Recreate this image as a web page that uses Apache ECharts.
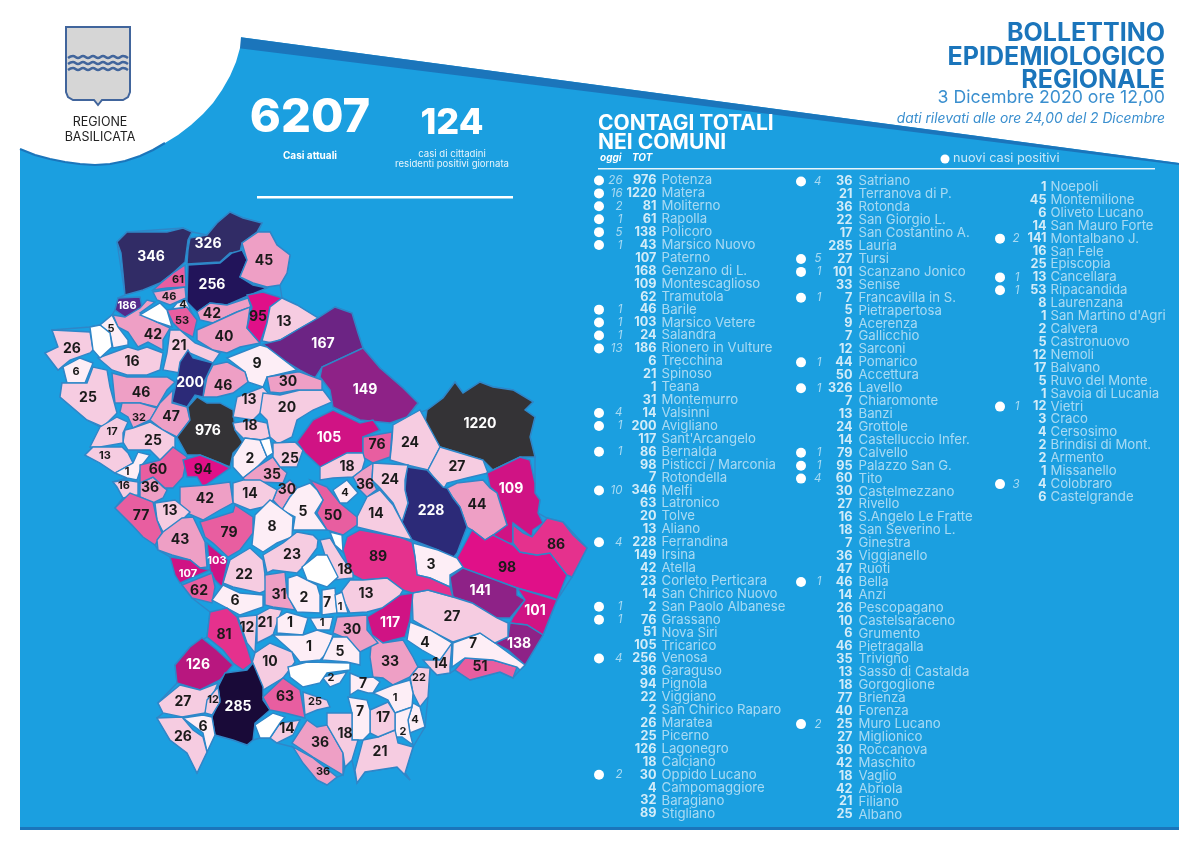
<!DOCTYPE html>
<html>
<head>
<meta charset="utf-8">
<title>Bollettino epidemiologico regionale</title>
<script src="https://cdn.jsdelivr.net/npm/echarts@6/dist/echarts.min.js"></script>
<style>html,body{margin:0;padding:0;background:#fff}</style>
</head>
<body>
<div id="main" style="width:1193px;height:841px"></div>
<script>
// --- list on the right: one set of arrays per column
var col1Names = ['Potenza','Matera','Moliterno','Rapolla','Policoro','Marsico Nuovo','Paterno','Genzano di L.','Montescaglioso','Tramutola','Barile','Marsico Vetere','Salandra','Rionero in Vulture','Trecchina','Spinoso','Teana','Montemurro','Valsinni','Avigliano',"Sant'Arcangelo",'Bernalda','Pisticci / Marconia','Rotondella','Melfi','Latronico','Tolve','Aliano','Ferrandina','Irsina','Atella','Corleto Perticara','San Chirico Nuovo','San Paolo Albanese','Grassano','Nova Siri','Tricarico','Venosa','Garaguso','Pignola','Viggiano','San Chirico Raparo','Maratea','Picerno','Lagonegro','Calciano','Oppido Lucano','Campomaggiore','Baragiano','Stigliano'];
var col1Tot = [976,1220,81,61,138,43,107,168,109,62,46,103,24,186,6,21,1,31,14,200,117,86,98,7,346,63,20,13,228,149,42,23,14,2,76,51,105,256,36,94,22,2,26,25,126,18,30,4,32,89];
var col1Oggi = [26,16,2,1,5,1,0,0,0,0,1,1,1,13,0,0,0,0,4,1,0,1,0,0,10,0,0,0,4,0,0,0,0,1,1,0,0,4,0,0,0,0,0,0,0,0,2,0,0,0];

var col2Names = ['Satriano','Terranova di P.','Rotonda','San Giorgio L.','San Costantino A.','Lauria','Tursi','Scanzano Jonico','Senise','Francavilla in S.','Pietrapertosa','Acerenza','Gallicchio','Sarconi','Pomarico','Accettura','Lavello','Chiaromonte','Banzi','Grottole','Castelluccio Infer.','Calvello','Palazzo San G.','Tito','Castelmezzano','Rivello','S.Angelo Le Fratte','San Severino L.','Ginestra','Viggianello','Ruoti','Bella','Anzi','Pescopagano','Castelsaraceno','Grumento','Pietragalla','Trivigno','Sasso di Castalda','Gorgoglione','Brienza','Forenza','Muro Lucano','Miglionico','Roccanova','Maschito','Vaglio','Abriola','Filiano','Albano'];
var col2Tot = [36,21,36,22,17,285,27,101,33,7,5,9,7,12,44,50,326,7,13,24,14,79,95,60,30,27,16,18,7,36,47,46,14,26,10,6,46,35,13,18,77,40,25,27,30,42,18,42,21,25];
var col2Oggi = [4,0,0,0,0,0,5,1,0,1,0,0,0,0,1,0,1,0,0,0,0,1,1,4,0,0,0,0,0,0,0,1,0,0,0,0,0,0,0,0,0,0,2,0,0,0,0,0,0,0];

var col3Names = ['Noepoli','Montemilione','Oliveto Lucano','San Mauro Forte','Montalbano J.','San Fele','Episcopia','Cancellara','Ripacandida','Laurenzana',"San Martino d'Agri",'Calvera','Castronuovo','Nemoli','Balvano','Ruvo del Monte','Savoia di Lucania','Vietri','Craco','Cersosimo','Brindisi di Mont.','Armento','Missanello','Colobraro','Castelgrande'];
var col3Tot = [1,45,6,14,141,16,25,13,53,8,1,2,5,12,17,5,1,12,3,4,2,2,1,4,6];
var col3Oggi = [0,0,0,0,2,0,0,1,1,0,0,0,0,0,0,0,0,1,0,0,0,0,0,3,0];

// --- numbers printed on the map, region by region (0 = region left white)
var mapNames = ['Melfi','Lavello','Venosa','Montemilone','Rapolla','Barile','Rionero','Atella','Ripacandida','Ginestra','Maschito','Forenza','Palazzo','Banzi','Genzano','Irsina','Matera','Grottole','Miglionico','Montescaglioso','Pomarico','Ferrandina','Pisticci','Bernalda','Montalbano','Scanzano','Policoro','Nova Siri','Rotondella','Tursi','Craco','Stigliano','Sant Arcangelo','Aliano','Colobraro','Valsinni','Senise','San Giorgio','Noepoli','Cersosimo','San Paolo','Terranova','San Costantino','Francavilla','Chiaromonte','Filiano','Acerenza','Pietragalla','Avigliano','Ruvo','Pescopagano','Castelgrande','Muro','San Fele','Bella','Baragiano','Ruoti','Picerno','Balvano','Vietri','Savoia','Satriano','S.Angelo','Tito','Potenza','Pignola','Vaglio','Cancellara','Tolve','Oppido','Brindisi','Trivigno','Albano','Tricarico','Grassano','Calciano','Garaguso','Salandra','San Mauro','Accettura','Oliveto','Castelmezzano','Pietrapertosa','Anzi','Abriola','Sasso','Brienza','Marsico Nuovo','Calvello','Laurenzana','Corleto','Viggiano','Paterno','Marsico Vetere','Tramutola','Grumento','Moliterno','Sarconi','Spinoso','San Martino','Montemurro','Armento','Gallicchio','Missanello','Teana','Roccanova','San Chirico','Castronuovo','Castelsaraceno','Lagonegro','Lauria','Rivello','Nemoli','Trecchina','Maratea','Latronico','Episcopia','Castelluccio','Viggianello','Rotonda','San Severino','Calvera','Gorgoglione','Bianco1','Bianco2','Bianco3','Bianco4','Bianco5','Bianco6','Bianco7'];
var mapTotals = [346,326,256,45,61,46,186,42,53,4,42,40,95,13,167,149,1220,24,27,109,44,228,98,86,141,101,138,51,7,27,3,89,117,13,4,14,33,22,1,4,2,21,17,7,7,21,9,46,200,5,26,6,25,16,46,32,47,25,17,13,1,36,16,60,976,94,18,13,20,30,2,35,25,105,76,18,36,24,14,50,4,30,5,14,42,13,77,43,79,8,23,22,107,103,62,6,81,12,21,1,31,2,7,1,1,30,1,5,10,126,285,27,12,6,26,63,25,14,36,36,18,2,18,0,0,0,0,0,0,0];
var mapSmallLabels = ['Rapolla','Barile','Rionero','Ripacandida','Ginestra','Ruvo','Castelgrande','Baragiano','Balvano','Vietri','Savoia','S.Angelo','Paterno','Marsico Vetere','Nemoli','Rotonda','San Giorgio','Calvera','Oliveto','Missanello','Cersosimo','San Paolo','Episcopia','Teana','Noepoli'];

// --- region outlines and where each number sits on the map (page pixels)
var regionShapes = {
  'Melfi': [[151,257],[117,242,127,232,147,232,167,232,183,228,192,232,188,240,185,262,173,273,160,283,143,290,125,295,123,273,121,253]],
  'Lavello': [[208,244],[190,238,207,235,217,223,230,212,243,218,262,223,257,232,242,243,240,252,230,253,220,262,187,264,188,250]],
  'Venosa': [[212,285],[188,265,220,263,232,253,242,250,247,260,240,277,253,285,267,288,243,298,227,305,210,303,197,312,187,302]],
  'Montemilone': [[264,261],[242,243,258,232,270,232,277,245,290,255,287,273,280,285,267,287,253,283,240,277,247,260]],
  'Rapolla': [[178,280],[185,265,186,287,167,288,153,290,162,282,173,273]],
  'Barile': [[169,297],[153,292,185,287,186,298,170,305,157,300]],
  'Rionero': [[127,306],[115,310,118,298,140,297,142,307,133,315,125,317]],
  'Atella': [[153,335],[113,315,125,317,140,308,147,300,155,302,140,313,157,322,170,328,163,340,163,350,148,342,138,347,128,332,118,327]],
  'Ripacandida': [[182,321],[167,310,187,307,197,320,193,337,180,330,173,323]],
  'Ginestra': [[183,305],[172,309,177,303,186,300,192,313,187,307]],
  'Maschito': [[212,314],[197,312,210,303,227,305,248,298,251,307,237,312,213,323,200,320]],
  'Forenza': [[224,337],[197,330,213,323,237,312,250,307,247,328,260,343,240,347,227,353,213,350,197,340]],
  'Palazzo': [[258,317],[247,295,263,292,282,298,270,307,267,323,260,343,247,328,252,307]],
  'Banzi': [[284,322],[282,298,297,305,318,318,297,330,280,340,272,343,262,341,267,323,270,307]],
  'Genzano': [[323,344],[335,307,352,313,358,333,363,348,322,367,315,378,300,370,280,358,263,344,280,340,297,330,318,318]],
  'Irsina': [[365,390],[363,348,380,368,403,388,418,403,407,417,390,423,360,420,333,407,330,390,320,377,322,367]],
  'Matera': [[480,424],[427,410,443,398,455,382,463,393,480,382,493,387,513,390,533,402,525,410,535,417,530,437,535,457,520,457,493,470,483,460,460,453,440,447,425,423]],
  'Grottole': [[410,443],[393,425,420,410,427,423,440,447,428,470,407,465,390,460,392,440]],
  'Miglionico': [[457,467],[440,447,460,453,483,460,488,473,467,478,447,483,443,490,428,470]],
  'Montescaglioso': [[511,489],[487,473,520,457,530,460,535,483,535,493,540,500,538,513,543,523,533,530,532,537,513,523,513,543,503,545,493,535,507,525,497,493,490,487]],
  'Pomarico': [[477,505],[447,488,457,483,483,480,490,488,497,493,507,525,493,535,485,540,472,530,467,527,460,507,453,498]],
  'Ferrandina': [[431,511],[407,467,427,470,443,487,447,488,453,498,460,507,467,527,457,553,453,558,438,550,412,540,402,522,408,503,405,490]],
  'Pisticci': [[507,568],[472,530,485,540,493,535,513,545,520,552,537,555,550,553,567,575,557,600,550,597,517,588,490,578,463,568,457,558]],
  'Bernalda': [[556,545],[513,525,523,533,532,537,547,518,563,522,573,535,587,548,572,577,567,575,550,553,537,555,520,552,513,543]],
  'Montalbano': [[480,591],[450,577,463,568,490,578,517,588,517,595,525,600,510,618,497,618,472,603,453,597]],
  'Scanzano': [[535,611],[517,588,550,598,557,600,550,617,543,635,527,625,510,623,513,617,525,600]],
  'Policoro': [[519,644],[495,643,508,637,510,623,527,625,543,635,525,665,508,650]],
  'Nova Siri': [[480,667],[455,670,465,658,493,660,517,667,513,678,500,672,470,680]],
  'Rotondella': [[473,644],[452,667,453,643,480,633,495,643,525,665,520,670,517,667,493,660,465,658]],
  'Tursi': [[452,617],[412,593,428,590,453,597,472,603,497,618,508,623,508,637,495,643,480,633,453,642,430,630,413,620]],
  'Craco': [[431,565],[413,543,438,550,457,558,463,567,450,575,450,587,430,578,417,575,415,557]],
  'Stigliano': [[378,557],[360,530,400,537,412,542,415,557,417,575,430,578,450,587,453,597,428,590,412,593,403,590,387,578,363,580,350,573,343,550,347,537]],
  'Sant Arcangelo': [[390,623],[367,617,382,608,400,595,413,593,412,603,410,620,405,637,393,640,383,643,372,635]],
  'Aliano': [[366,594],[350,580,363,580,387,578,403,590,400,595,382,608,367,612,350,613,340,593]],
  'Colobraro': [[425,643],[410,622,430,630,452,643,450,652,440,660,422,650,407,640]],
  'Valsinni': [[440,664],[452,643,450,667,450,673,437,675,430,668,423,660,440,660]],
  'Senise': [[390,662],[372,635,383,643,403,640,413,657,418,667,410,677,393,685,383,678,373,677,370,657]],
  'San Giorgio': [[419,678],[418,667,430,668,428,697,420,707,413,693,410,677]],
  'Noepoli': [[395,698],[373,693,393,685,410,680,413,693,412,707,395,713,388,700]],
  'Cersosimo': [[415,720],[413,703,420,707,425,727,410,733,408,720]],
  'San Paolo': [[403,732],[395,713,412,707,408,720,410,733,413,745,402,737,395,737]],
  'Terranova': [[380,752],[363,740,378,737,395,730,398,743,413,747,405,773,410,780,397,767,365,772,357,783,355,770]],
  'San Costantino': [[383,718],[370,710,388,702,395,713,395,730,378,737,370,733]],
  'Francavilla': [[360,712],[348,697,367,700,370,710,370,733,363,740,352,740,352,713]],
  'Chiaromonte': [[363,684],[350,673,362,678,373,677,380,682,373,693,368,693,358,690,350,695]],
  'Filiano': [[179,346],[170,330,180,330,195,343,220,353,213,363,190,353,183,360,180,373,163,370,167,353]],
  'Acerenza': [[257,364],[227,358,260,345,267,347,297,370,267,377,263,387,248,382,245,372]],
  'Pietragalla': [[223,386],[213,365,227,362,245,372,248,382,233,393,217,397,203,397,207,377]],
  'Avigliano': [[190,383],[188,350,193,358,213,363,205,380,203,397,195,395,187,407,172,402,177,380,180,362]],
  'Ruvo': [[111,329],[100,325,112,315,118,327,128,340,128,345,113,348,110,333]],
  'Pescopagano': [[72,349],[52,330,90,332,93,350,90,353,70,360,58,370,45,353,58,347]],
  'Castelgrande': [[76,372],[63,367,80,358,93,363,85,383,67,383]],
  'Muro': [[88,398],[87,383,93,367,107,370,110,387,117,413,103,427,87,420,60,397,62,383]],
  'San Fele': [[132,362],[98,358,128,347,138,350,147,347,163,353,160,370,147,375,127,375,112,370]],
  'Bella': [[141,393],[112,373,127,377,147,377,167,377,175,382,167,390,157,407,140,403,123,403,115,403]],
  'Baragiano': [[139,418],[122,403,140,403,157,408,150,420,133,428,128,417,120,412]],
  'Ruoti': [[171,417],[173,390,172,403,187,407,190,420,177,437,163,430,150,420,160,403]],
  'Picerno': [[153,441],[125,430,133,428,150,422,163,430,175,437,175,450,160,460,150,450,128,450,123,442]],
  'Balvano': [[112,432],[100,427,117,417,128,422,123,433,123,443,100,447,90,447]],
  'Vietri': [[105,456],[85,455,93,447,122,447,128,453,133,463,115,473,100,463]],
  'Savoia': [[127,472],[115,473,133,463,138,452,150,455,142,465,137,480,127,478]],
  'Satriano': [[150,488],[140,483,153,477,163,487,167,490,163,498,153,503,140,497]],
  'S.Angelo': [[124,486],[113,482,125,480,138,482,138,495,123,498,117,487]],
  'Tito': [[158,470],[140,465,160,460,173,447,187,457,183,477,173,488,165,488,153,477,140,483]],
  'Potenza': [[208,431],[197,397,207,403,220,403,233,410,235,430,243,443,233,453,230,467,220,463,200,455,187,455,177,437,190,420,188,407]],
  'Pignola': [[203,470],[183,460,200,455,220,463,230,468,213,480,203,487,197,477,187,477]],
  'Vaglio': [[250,426],[233,423,253,420,267,423,270,437,263,440,243,438,235,430]],
  'Cancellara': [[249,400],[237,397,263,387,268,393,260,413,253,420,233,417]],
  'Tolve': [[287,408],[263,393,280,395,300,390,323,390,332,402,313,410,297,420,292,437,280,443,277,443,270,437,267,420,260,413]],
  'Oppido': [[288,382],[267,377,297,372,300,372,322,380,322,390,297,390,280,393,270,392]],
  'Brindisi': [[250,459],[233,457,245,438,260,440,267,457,257,467,243,478,233,467]],
  'Trivigno': [[272,475],[257,467,273,457,280,467,287,473,283,483,260,482,247,483,243,478]],
  'Albano': [[290,459],[273,443,295,442,303,450,297,467,280,467,273,457]],
  'Tricarico': [[329,438],[297,442,313,420,333,410,360,423,373,420,380,430,363,437,363,453,347,453,320,467,305,453]],
  'Grassano': [[377,445],[363,437,392,432,390,457,373,463,363,457]],
  'Calciano': [[347,467],[320,467,347,453,363,453,365,460,362,470,353,477,333,478,320,480]],
  'Garaguso': [[365,485],[362,470,373,463,372,480,377,490,380,487,367,497,360,490,353,477]],
  'Salandra': [[390,480],[373,463,408,465,405,480,405,490,408,503,402,522,393,503,380,488,372,480]],
  'San Mauro': [[376,514],[357,517,367,497,380,490,393,505,402,522,412,540,390,535,357,527]],
  'Accettura': [[333,516],[310,480,327,487,340,503,357,517,357,525,343,535,327,530,317,513,323,500,317,490]],
  'Oliveto': [[345,493],[333,490,347,480,358,493,347,503,340,503]],
  'Castelmezzano': [[287,490],[277,490,290,480,297,487,290,497,282,510,273,500]],
  'Pietrapertosa': [[303,512],[297,488,310,483,317,490,323,500,315,513,327,530,313,530,293,530,295,517,282,510,290,497]],
  'Anzi': [[250,494],[233,483,243,480,260,480,277,490,273,500,263,507,250,510,233,503]],
  'Abriola': [[205,499],[180,487,207,485,230,482,233,503,220,510,203,520,180,510]],
  'Sasso': [[170,511],[155,503,175,500,190,512,180,522,163,532,157,520]],
  'Brienza': [[141,516],[115,508,130,493,153,502,157,520,162,533,155,545,143,537,132,525]],
  'Marsico Nuovo': [[180,540],[157,540,163,532,182,518,193,517,205,542,207,567,200,568,190,560,172,555,158,550]],
  'Calvello': [[229,533],[200,522,217,517,233,512,235,505,253,517,253,533,240,550,228,557,213,543,205,537]],
  'Laurenzana': [[272,527],[255,515,270,500,293,517,292,537,277,543,263,552,252,545,253,535]],
  'Corleto': [[292,555],[263,555,283,543,297,532,313,535,318,540,317,548,303,567,297,573,273,570,267,573]],
  'Viggiano': [[244,575],[223,583,230,560,250,548,263,560,267,590,260,593,233,587]],
  'Paterno': [[188,574],[170,557,190,560,200,568,210,570,180,583,175,575]],
  'Marsico Vetere': [[217,561],[207,543,228,560,222,587,215,580,210,570]],
  'Tramutola': [[199,591],[182,585,212,573,215,587,212,603,192,598]],
  'Grumento': [[235,601],[212,600,223,585,240,593,263,595,263,607,240,615,227,608]],
  'Moliterno': [[224,635],[210,612,227,608,237,617,247,647,252,663,243,670,233,663,223,650,207,637]],
  'Sarconi': [[247,628],[238,617,257,615,255,653,247,643]],
  'Spinoso': [[265,623],[257,615,270,608,282,610,277,623,273,635,257,643]],
  'San Martino': [[290,623],[277,618,287,612,308,618,303,635,277,633]],
  'Montemurro': [[279,595],[265,575,285,572,287,593,295,610,273,607,265,605]],
  'Armento': [[304,598],[288,578,297,575,317,585,320,595,320,613,297,612,288,597]],
  'Gallicchio': [[327,603],[322,590,335,588,337,613,322,615]],
  'Missanello': [[340,607],[335,595,342,592,348,613,337,613]],
  'Teana': [[322,623],[310,618,333,617,330,630,317,630]],
  'Roccanova': [[352,630],[337,617,367,615,367,630,378,643,360,652,343,637,333,633]],
  'San Chirico': [[309,647],[273,635,303,635,317,630,333,635,327,653,320,660,300,662,292,652]],
  'Castronuovo': [[340,652],[333,637,347,637,360,652,360,665,347,662,322,660]],
  'Castelsaraceno': [[270,662],[255,653,270,643,292,652,295,662,287,673,283,678,263,690,257,677,252,663]],
  'Lagonegro': [[198,665],[175,665,190,647,202,638,217,650,233,665,220,680,200,690,177,683]],
  'Lauria': [[238,707],[225,673,247,670,253,663,263,687,263,700,270,710,255,723,253,740,247,745,233,740,215,735,212,717,220,700,218,687]],
  'Rivello': [[183,702],[158,703,180,685,200,690,218,683,212,697,205,713,182,717,163,713]],
  'Nemoli': [[213,700],[207,700,218,687,220,702,212,715,205,713]],
  'Trecchina': [[203,727],[183,718,203,715,212,717,215,735,207,752,203,733]],
  'Maratea': [[183,737],[157,718,182,717,193,730,203,737,207,752,197,773,187,753,170,740]],
  'Latronico': [[285,697],[263,697,283,678,300,690,305,718,285,713,270,710]],
  'Episcopia': [[315,702],[303,692,327,700,330,707,317,710,305,715]],
  'Castelluccio': [[287,729],[270,738,280,723,300,720,293,735,277,743]],
  'Viggianello': [[320,743],[292,743,307,720,317,727,327,725,343,753,343,775,313,757]],
  'Rotonda': [[323,772],[293,747,313,758,337,777,327,785,317,780,303,763]],
  'San Severino': [[345,734],[327,713,352,713,352,740,358,740,352,760,345,767,343,753,327,725]],
  'Calvera': [[331,678],[322,677,347,672,340,683,330,687]],
  'Gorgoglione': [[345,570],[320,540,330,538,342,557,353,573,353,578,333,580]],
  'Bianco1': [[0,0],[140,315,160,303,167,310,172,327,157,322]],
  'Bianco2': [[0,0],[90,327,100,325,110,333,112,347,100,358,93,350]],
  'Bianco3': [[0,0],[260,440,270,438,273,453,267,457]],
  'Bianco4': [[0,0],[302,567,317,555,327,555,338,577,327,587,307,580]],
  'Bianco5': [[0,0],[288,667,307,662,350,663,350,670,327,673,320,683,303,687,290,677]],
  'Bianco6': [[0,0],[255,725,273,713,285,717,280,723,270,738,260,738]],
  'Bianco7': [[0,0],[330,532,342,535,343,552,335,545]]
};
var landOutline = [117,242,127,232,183,228,192,232,207,235,217,223,230,212,243,218,262,223,258,232,270,232,277,245,290,255,287,273,280,285,282,298,297,305,318,318,335,307,352,313,358,333,363,348,380,368,403,388,418,403,407,417,427,410,443,398,455,382,463,393,480,382,493,387,513,390,533,402,525,410,535,417,530,437,535,457,535,493,540,500,538,513,547,518,563,522,587,548,572,577,557,600,543,635,525,665,520,670,513,678,500,672,470,680,455,670,450,673,437,675,430,668,428,697,425,727,413,747,405,773,410,780,397,767,365,772,357,783,352,760,345,767,343,775,337,777,327,785,317,780,293,747,277,743,270,738,260,738,253,740,247,745,233,740,215,735,207,752,197,773,187,753,170,740,157,718,163,713,158,703,177,683,175,665,190,647,207,637,210,612,192,598,182,585,170,557,158,550,155,545,132,525,115,508,123,498,117,487,113,482,127,478,115,473,100,463,85,455,93,447,100,427,87,420,60,397,62,383,67,383,63,367,58,370,45,353,58,347,52,330,90,327,100,325,112,315,115,310,118,298,125,295];

// flat [x,y,x,y...] list to a closed ring
function toRing(flat) {
  var ring = [];
  for (var i = 0; i < flat.length; i += 2) ring.push([flat[i], flat[i + 1]]);
  ring.push(ring[0]);
  return ring;
}

var features = [{type: 'Feature', properties: {name: 'Terra', cp: [0, 0]}, geometry: {type: 'Polygon', coordinates: [toRing(landOutline)]}}];
mapNames.forEach(function (name) {
  var shape = regionShapes[name];
  features.push({type: 'Feature', properties: {name: name, cp: shape[0]}, geometry: {type: 'Polygon', coordinates: [toRing(shape[1])]}});
});
echarts.registerMap('basilicata', {type: 'FeatureCollection', features: features});

var myChart = echarts.init(document.getElementById('main'));

var BLUE = '#1b9fe0', DARKBLUE = '#1b75bb', PALE = '#cbe8f8';
var FONT = 'Inter';

// --- one grid per list column, rows come from the category axis
var columns = [
  {names: col1Names, tot: col1Tot, oggi: col1Oggi, top: 174, dot: 599, oggiX: 623, totX: 657, nameX: 661},
  {names: col2Names, tot: col2Tot, oggi: col2Oggi, top: 175, dot: 801, oggiX: 822, totX: 853, nameX: 858},
  {names: col3Names, tot: col3Tot, oggi: col3Oggi, top: 180.5, dot: 1000, oggiX: 1020, totX: 1047, nameX: 1050}
];
var rowH = 12.92;
var grids = [], xAxes = [], yAxes = [], series = [];

columns.forEach(function (col, i) {
  grids.push({left: 0, width: 1193, top: col.top, height: rowH * col.names.length});
  xAxes.push({type: 'value', gridIndex: i, min: 0, max: 1193, show: false});
  yAxes.push({type: 'category', gridIndex: i, inverse: true, data: col.names, show: false});

  var base = {type: 'scatter', xAxisIndex: i, yAxisIndex: i, silent: true, symbolSize: 1, itemStyle: {color: 'transparent'}};
  var dots = [], oggi = [], tot = [], names = [];
  col.names.forEach(function (n, r) {
    if (col.oggi[r]) {
      dots.push([col.dot, r]);
      oggi.push([col.oggiX, r, col.oggi[r]]);
    }
    tot.push([col.totX, r, col.tot[r]]);
    names.push([col.nameX, r, n]);
  });
  series.push(Object.assign({}, base, {data: dots, symbolSize: 10, itemStyle: {color: '#fff', opacity: 1}}));
  series.push(Object.assign({}, base, {data: oggi, label: {show: true, position: 'left', distance: 0, color: PALE, fontFamily: FONT, fontStyle: 'italic', fontSize: 11.5, formatter: function (p) { return p.value[2]; }}}));
  series.push(Object.assign({}, base, {data: tot, label: {show: true, position: 'left', distance: 0, color: '#fff', fontFamily: FONT, fontWeight: 700, fontSize: 12.7, formatter: function (p) { return p.value[2]; }}}));
  series.push(Object.assign({}, base, {data: names, label: {show: true, position: 'right', distance: 0, color: PALE, fontFamily: FONT, fontSize: 13.2, formatter: function (p) { return p.value[2]; }}}));
});

// --- the map: values coloured through the visualMap pieces
var mapData = [{name: 'Terra', value: -1, label: {show: false}}];
mapNames.forEach(function (name, i) {
  var v = mapTotals[i];
  mapData.push({
    name: name,
    value: v,
    label: {
      show: v > 0,
      color: v >= 100 ? '#fff' : '#1a1a1a',
      fontSize: mapSmallLabels.indexOf(name) >= 0 ? 11 : 14
    }
  });
});
series.push({
  type: 'map',
  map: 'basilicata',
  projection: {
    project: function (p) { return p; },
    unproject: function (p) { return p; }
  },
  boundingCoords: [[0, 0], [1193, 841]],
  left: 0, top: 0, width: 1193, height: 841,
  aspectScale: 1,
  silent: true,
  z: 3,
  itemStyle: {borderColor: '#2f86c8', borderWidth: 1.4, areaColor: '#fff'},
  label: {show: true, fontFamily: FONT, fontWeight: 700, fontSize: 14, formatter: '{c}'},
  data: mapData
});

function txt(x, y, text, size, color, opts) {
  opts = opts || {};
  return {type: 'text', x: x, y: y, silent: true, style: {
    text: text,
    fill: color,
    font: (opts.fontStyle ? opts.fontStyle + ' ' : '') + (opts.weight || 400) + ' ' + size + 'px ' + FONT,
    textAlign: opts.align || 'left',
    textVerticalAlign: 'middle'
  }};
}
function poly(points, fill) {
  return {type: 'polygon', silent: true, shape: {points: points}, style: {fill: fill}};
}
function wave(y) {
  var pts = [];
  for (var x = 68; x <= 128; x += 5) pts.push([x, y + (Math.round((x - 68) / 5) % 2 ? -1 : 1)]);
  return {type: 'polyline', silent: true, shape: {points: pts, smooth: 0.5}, style: {stroke: '#41659c', lineWidth: 2.4, fill: 'none'}};
}
// white logo corner edge, sampled so it can be filled as a polygon
var logoEdge = [[241,37],[240,48],[236,62],[230,76],[222,90],[213,103],[203,114],[191,125],[178,135],[165,143],[153,150],[140,156],[125,161],[110,164],[95,165],[80,164],[65,162],[50,159],[35,155],[20,149]];

var option = {
  animation: false,
  backgroundColor: '#fff',
  grid: grids,
  xAxis: xAxes,
  yAxis: yAxes,
  visualMap: {
    show: false,
    type: 'piecewise',
    seriesIndex: series.length - 1,
    pieces: [
      {max: -1, color: '#fbe4f0'},
      {min: 0, max: 0, color: '#ffffff'},
      {min: 1, max: 9, color: '#fdeef6'},
      {min: 10, max: 29, color: '#f6cce1'},
      {min: 30, max: 49, color: '#ee9fc5'},
      {min: 50, max: 79, color: '#e85ea0'},
      {min: 80, max: 89, color: '#e5318d'},
      {min: 90, max: 99, color: '#e01088'},
      {min: 100, max: 125, color: '#d01384'},
      {min: 126, max: 137, color: '#b8177f'},
      {min: 138, max: 160, color: '#8e2287'},
      {min: 161, max: 185, color: '#6c2484'},
      {min: 186, max: 199, color: '#552a8c'},
      {min: 200, max: 240, color: '#2c2a78'},
      {min: 241, max: 270, color: '#22145a'},
      {min: 271, max: 300, color: '#190a38'},
      {min: 301, max: 400, color: '#312c66'},
      {min: 401, color: '#343336'}
    ]
  },
  graphic: {elements: [
    // blue panel, slanted band, white logo corner
    poly([[20, 140], [239, 37], [1179, 163], [1179, 827], [20, 827]], BLUE),
    {type: 'rect', silent: true, shape: {x: 20, y: 827, width: 1159, height: 3}, style: {fill: DARKBLUE}},
    poly([[239, 37], [1179, 163], [1179, 165], [600, 93], [237, 48]], DARKBLUE),
    poly([[0, 0], [241, 0]].concat(logoEdge).concat([[0, 149]]), '#fff'),
    {type: 'polyline', silent: true, shape: {points: logoEdge.slice(9)}, style: {stroke: DARKBLUE, lineWidth: 2.2, fill: 'none'}},
    // coat of arms
    {type: 'polygon', silent: true, shape: {points: [[66, 27], [130, 27], [130, 92], [128, 97], [123, 100], [102, 100], [98, 105], [94, 100], [73, 100], [68, 97], [66, 92]]}, style: {fill: '#d6d6d6', stroke: '#41659c', lineWidth: 2}},
    wave(57), wave(63), wave(69),
    txt(100, 122, 'REGIONE', 12.5, '#222', {align: 'center'}),
    txt(100, 137, 'BASILICATA', 12.5, '#222', {align: 'center'}),
    // key figures
    txt(310, 118, '6207', 47, '#fff', {align: 'center', weight: 800}),
    txt(452, 123, '124', 36, '#fff', {align: 'center', weight: 800}),
    txt(310, 156, 'Casi attuali', 10, '#fff', {align: 'center', weight: 700}),
    txt(452, 154, 'casi di cittadini', 9.6, '#e8f5fc', {align: 'center'}),
    txt(452, 164, 'residenti positivi giornata', 9.6, '#e8f5fc', {align: 'center'}),
    {type: 'rect', silent: true, shape: {x: 257, y: 196, width: 256, height: 2.5}, style: {fill: '#fff'}},
    // title block
    txt(1165, 33, 'BOLLETTINO', 25, DARKBLUE, {align: 'right', weight: 700}),
    txt(1165, 57, 'EPIDEMIOLOGICO', 25, DARKBLUE, {align: 'right', weight: 700}),
    txt(1165, 80, 'REGIONALE', 25, DARKBLUE, {align: 'right', weight: 700}),
    txt(1165, 98, '3 Dicembre 2020 ore 12,00', 17.7, '#3a8fcf', {align: 'right'}),
    txt(1165, 119, 'dati rilevati alle ore 24,00 del 2 Dicembre', 13.8, '#3a8fcf', {align: 'right', fontStyle: 'italic'}),
    // list heading
    txt(598, 124, 'CONTAGI TOTALI', 21, '#fff', {weight: 700}),
    txt(598, 143, 'NEI COMUNI', 21, '#fff', {weight: 700}),
    txt(600, 158, 'oggi', 10, '#fff', {weight: 700, fontStyle: 'italic'}),
    txt(632, 158, 'TOT', 10, '#fff', {weight: 700, fontStyle: 'italic'}),
    {type: 'rect', silent: true, shape: {x: 598, y: 168, width: 557, height: 1.5}, style: {fill: '#e8f5fc'}},
    {type: 'circle', silent: true, shape: {cx: 945, cy: 159, r: 4.5}, style: {fill: '#fff'}},
    txt(953, 158, 'nuovi casi positivi', 12.7, PALE)
  ]},
  series: series
};
myChart.setOption(option);
</script>
</body>
</html>
